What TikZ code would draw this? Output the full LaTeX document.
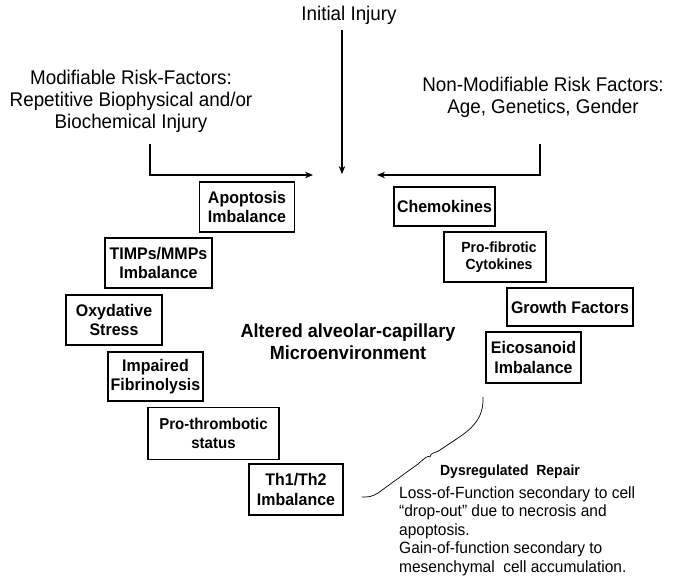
\documentclass[tikz,border=0pt]{standalone}
\usepackage{fontspec}
\setmainfont{Liberation Sans}[FakeStretch=0.95]
\usetikzlibrary{arrows.meta}
\begin{document}
\begin{tikzpicture}[x=1pt,y=-1pt,
  box/.style={draw, line width=1.2pt, inner sep=0pt, align=center, font=\fontsize{16.8}{19.3}\selectfont\bfseries},
  toptext/.style={align=center, inner sep=0pt, font=\fontsize{19.8}{22}\selectfont},
  conn/.style={line width=1.3pt, -{Stealth[length=8pt,width=6.5pt]}},
  bracestyle/.style={line width=0.7pt}]
\useasboundingbox (0,0) rectangle (675,577);

% top texts
\node[toptext] (init) at (349,15) {Initial Injury};
\node[toptext] (mod) at (131,101) {Modifiable Risk-Factors:\\Repetitive Biophysical and/or\\Biochemical Injury};
\node[toptext] (nonmod) at (543,97) {Non-Modifiable Risk Factors:\\Age, Genetics, Gender};

% arrow ends
\coordinate (vtop) at (342,30);
\coordinate (vtip) at (342,174);
\coordinate (ltop) at (150,144);
\coordinate (ltip) at (313,175);
\coordinate (rtop) at (540,144);
\coordinate (rtip) at (377,175);
\draw[conn] (vtop) -- (vtip);
\draw[conn] (ltop) |- (ltip);
\draw[conn] (rtop) |- (rtip);

% left boxes
\node[box, minimum width=95pt, minimum height=50pt] (apo) at (247,207) {Apoptosis\\Imbalance};
\node[box, minimum width=107pt, minimum height=50pt] (timp) at (158.5,263) {TIMPs/MMPs\\Imbalance};
\node[box, minimum width=96pt, minimum height=50pt] (oxy) at (114,320) {Oxydative\\Stress};
\node[box, minimum width=95pt, minimum height=49pt] (fib) at (155.5,376.5) {Impaired\\Fibrinolysis};
\node[box, minimum width=131pt, minimum height=52pt, font=\fontsize{15.8}{19}\selectfont\bfseries] (thr) at (213.5,433.5) {Pro-thrombotic\\status};
\node[box, minimum width=94pt, minimum height=51pt] (th) at (296,489.5) {Th1/Th2\\Imbalance};

% right boxes
\node[box, minimum width=101pt, minimum height=39pt] (chem) at (444.5,206.5) {Chemokines};
\node[box, minimum width=102pt, minimum height=50pt, font=\fontsize{14.7}{17}\selectfont\bfseries] (cyto) at (495,257) {\hspace*{8pt}Pro-fibrotic\\\hspace*{8pt}Cytokines};
\node[box, minimum width=126pt, minimum height=38pt] (growth) at (570,307) {Growth Factors};
\node[box, minimum width=95pt, minimum height=51pt] (eico) at (533.5,357.5) {Eicosanoid\\Imbalance};

% centre text
\node[align=center, inner sep=0pt, font=\fontsize{19}{22}\selectfont\bfseries] (centre) at (348,342) {Altered alveolar-capillary\\Microenvironment};

% brace
\draw[bracestyle] (483,397) .. controls (484,420) and (470,430) .. (455,440) -- (440,450) .. controls (434,454) and (431,452) .. (430,457);
\draw[bracestyle] (430,457) .. controls (428,455) and (425,458) .. (418,464) -- (378,493) .. controls (372,497) and (368,497) .. (362,497);

% repair text
\node[inner sep=0pt, font=\fontsize{14.7}{17}\selectfont\bfseries] (dys) at (510,472) {Dysregulated\ \ Repair};
\node[anchor=north west, align=left, inner sep=0pt, font=\fontsize{16.3}{18.6}\selectfont] (body) at (399,486) {Loss-of-Function secondary to cell\\“drop-out” due to necrosis and\\apoptosis.\\Gain-of-function secondary to\\mesenchymal\ \ cell accumulation.};
\end{tikzpicture}
\end{document}
